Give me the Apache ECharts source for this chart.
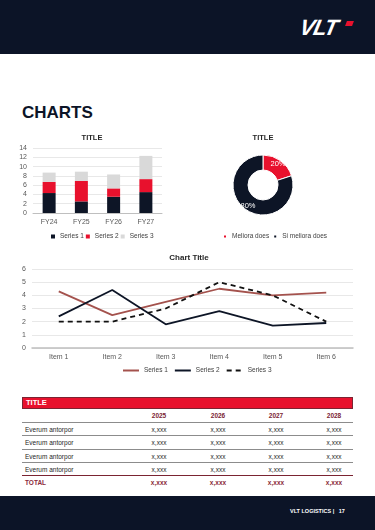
<!DOCTYPE html>
<html>
<head>
<meta charset="utf-8">
<script src="https://cdn.jsdelivr.net/npm/echarts@6/dist/echarts.min.js"></script>
<style>
    html, body { margin: 0; padding: 0; background: #fff; }
    body { width: 375px; height: 530px; position: relative; overflow: hidden; font-family: "Liberation Sans", Arial, sans-serif; }
    .header { position: absolute; left: 0; top: 0; width: 375px; height: 54px; background: #0c1427; }
    .logo { position: absolute; left: 300px; top: 15px; color: #fff; font-size: 22px; font-weight: 900; font-style: italic; letter-spacing: -1px; transform: skewX(-12deg); }
    .logo-dot { position: absolute; left: 346px; top: 21px; width: 7px; height: 5px; background: #e8112d; transform: skewX(-20deg); }
    .heading { position: absolute; left: 22px; top: 103px; font-size: 17px; font-weight: bold; color: #0c1427; }
    .footer { position: absolute; left: 0; top: 496px; width: 375px; height: 34px; background: #0c1427; }
    .footer span { position: absolute; left: 290px; top: 12px; color: #fff; font-size: 5.5px; font-weight: bold; white-space: pre; }
    #chart { position: absolute; left: 0; top: 0; width: 375px; height: 530px; }
    .table { position: absolute; left: 22px; top: 397px; width: 331px; font-size: 6.5px; color: #262626; }
    .table .bar { height: 12px; background: #e8112d; border: 1px solid #7b2432; box-sizing: border-box; color: #fff; font-weight: bold; font-size: 7.5px; line-height: 10px; padding-left: 3px; }
    .table .row { position: relative; height: 13.3px; border-bottom: 1px solid #8c8c8c; box-sizing: border-box; }
    .table .row.head { height: 14px; border-bottom-width: 1.5px; color: #7b2432; font-weight: bold; }
    .table .row.last { border-bottom: 1px solid #7b2432; }
    .table .row.total { border-bottom: none; color: #8b2a3a; font-weight: bold; }
    .table .cell { position: absolute; top: 0; line-height: 13px; }
    .table .label { left: 3px; }
    .table .val { width: 40px; margin-left: -20px; text-align: center; }
</style>
</head>
<body>
<div class="header"><div class="logo">VLT</div><div class="logo-dot"></div></div>
<div class="heading">CHARTS</div>
<div class="table" id="table"></div>
<div class="footer"><span>VLT LOGISTICS |   17</span></div>
<div id="chart"></div>
<script>
// bar chart data
var barCategories = ["FY24", "FY25", "FY26", "FY27"];
var barSeries1 = [4.3, 2.5, 3.5, 4.5];
var barSeries2 = [2.4, 4.4, 1.8, 2.8];
var barSeries3 = [2, 2, 3, 5];

// donut data
var pieNames = ["Meliora does", "Si meliora does"];
var pieValues = [20, 80];

// line chart data
var lineCategories = ["Item 1", "Item 2", "Item 3", "Item 4", "Item 5", "Item 6"];
var lineSeries1 = [4.3, 2.5, 3.5, 4.5, 4.0, 4.2];
var lineSeries2 = [2.4, 4.4, 1.8, 2.8, 1.7, 1.9];
var lineSeries3 = [2, 2, 3, 5, 4, 2];

// table data
var tableTitle = "TITLE";
var tableYears = ["2025", "2026", "2027", "2028"];
var tableRowLabels = ["Everum antorpor", "Everum antorpor", "Everum antorpor", "Everum antorpor"];
var tableValues = [
    ["x,xxx", "x,xxx", "x,xxx", "x,xxx"],
    ["x,xxx", "x,xxx", "x,xxx", "x,xxx"],
    ["x,xxx", "x,xxx", "x,xxx", "x,xxx"],
    ["x,xxx", "x,xxx", "x,xxx", "x,xxx"]
];
var tableTotalLabel = "TOTAL";
var tableTotals = ["x,xxx", "x,xxx", "x,xxx", "x,xxx"];

var NAVY = "#0d1526";
var RED = "#e8112d";
var GREY = "#d9d9d9";
var FONT = "Liberation Sans";

// build table
(function () {
    var colX = [137, 196, 254, 312]; // column centers relative to table
    var html = '<div class="bar">' + tableTitle + '</div>';
    function row(cls, label, vals) {
        var s = '<div class="row ' + cls + '"><span class="cell label">' + label + '</span>';
        vals.forEach(function (v, i) {
            s += '<span class="cell val" style="left:' + colX[i] + 'px">' + v + '</span>';
        });
        return s + '</div>';
    }
    html += row("head", "", tableYears);
    tableRowLabels.forEach(function (lab, i) {
        html += row(i === tableRowLabels.length - 1 ? "last" : "", lab, tableValues[i]);
    });
    html += row("total", tableTotalLabel, tableTotals);
    document.getElementById("table").innerHTML = html;
})();

function titleText(x, y, text, size) {
    return {
        type: "text",
        x: x,
        y: y,
        style: {
            text: text,
            fill: "#262626",
            font: "bold " + size + "px " + FONT,
            align: "center",
            verticalAlign: "middle",
            textAlign: "center",
            textVerticalAlign: "middle"
        }
    };
}

var axisLabel = { fontSize: 7, color: "#595959", fontFamily: FONT };
var legendText = { fontSize: 6.5, color: "#404040", fontFamily: FONT };

var myChart = echarts.init(document.getElementById("chart"), null, { renderer: "canvas" });
var option = {
    animation: false,
    textStyle: { fontFamily: FONT },
    graphic: [
        titleText(92, 138, "TITLE", 7.5),
        titleText(263, 138, "TITLE", 7.5),
        titleText(189, 258, "Chart Title", 8)
    ],
    grid: [
        { left: 33, width: 129, top: 148, height: 65 },
        { left: 32, width: 321, top: 269, height: 79 }
    ],
    xAxis: [
        {
            gridIndex: 0,
            type: "category",
            data: barCategories,
            axisLine: { lineStyle: { color: "#bfbfbf", width: 1 } },
            axisTick: { show: false },
            axisLabel: Object.assign({ margin: 6 }, axisLabel)
        },
        {
            gridIndex: 1,
            type: "category",
            data: lineCategories,
            axisLine: { lineStyle: { color: "#bfbfbf", width: 1.5 } },
            axisTick: { show: false },
            axisLabel: Object.assign({ margin: 6 }, axisLabel)
        }
    ],
    yAxis: [
        {
            gridIndex: 0,
            type: "value",
            min: 0,
            max: 14,
            interval: 2,
            axisLine: { show: false },
            axisTick: { show: false },
            splitLine: { lineStyle: { color: "#e8e8e8" } },
            axisLabel: Object.assign({ margin: 6 }, axisLabel)
        },
        {
            gridIndex: 1,
            type: "value",
            min: 0,
            max: 6,
            interval: 1,
            axisLine: { show: false },
            axisTick: { show: false },
            splitLine: { lineStyle: { color: "#e8e8e8" } },
            axisLabel: Object.assign({ margin: 6 }, axisLabel)
        }
    ],
    legend: [
        {
            data: ["Series 1", "Series 2", "Series 3"].map(function (n) { return { name: n, icon: "rect" }; }),
            left: 46,
            top: 228,
            itemWidth: 4,
            itemHeight: 4,
            itemGap: 2,
            textStyle: legendText
        },
        {
            data: pieNames,
            left: 217,
            top: 228,
            icon: "rect",
            itemWidth: 4,
            itemHeight: 4,
            itemGap: 3,
            textStyle: legendText
        },
        {
            data: ["L1", "L2", "L3"],
            left: 117,
            top: 362,
            itemWidth: 16,
            itemHeight: 6,
            itemGap: 6,
            itemStyle: { opacity: 0 },
            formatter: function (n) { return n.replace("L", "Series "); },
            textStyle: legendText
        }
    ],
    series: [
        {
            name: "Series 1", type: "bar", stack: "bars", xAxisIndex: 0, yAxisIndex: 0,
            data: barSeries1, barWidth: 13, itemStyle: { color: NAVY }
        },
        {
            name: "Series 2", type: "bar", stack: "bars", xAxisIndex: 0, yAxisIndex: 0,
            data: barSeries2, barWidth: 13, itemStyle: { color: RED }
        },
        {
            name: "Series 3", type: "bar", stack: "bars", xAxisIndex: 0, yAxisIndex: 0,
            data: barSeries3, barWidth: 13, itemStyle: { color: GREY }
        },
        {
            type: "pie",
            center: [263, 185],
            radius: [15, 30],
            startAngle: 90,
            clockwise: true,
            data: pieNames.map(function (n, i) {
                return { name: n, value: pieValues[i], itemStyle: { color: i === 0 ? RED : NAVY } };
            }),
            itemStyle: { borderColor: "#fff", borderWidth: 1 },
            label: {
                position: "inside",
                formatter: "{d}%",
                color: "#fff",
                fontSize: 7.5,
                fontFamily: FONT
            },
            labelLine: { show: false },
            emphasis: { disabled: true }
        },
        {
            name: "L1", type: "line", xAxisIndex: 1, yAxisIndex: 1,
            data: lineSeries1, symbol: "none",
            itemStyle: { color: "#a4524d" },
            lineStyle: { color: "#a4524d", width: 1.8 }
        },
        {
            name: "L2", type: "line", xAxisIndex: 1, yAxisIndex: 1,
            data: lineSeries2, symbol: "none",
            itemStyle: { color: NAVY },
            lineStyle: { color: NAVY, width: 1.8 }
        },
        {
            name: "L3", type: "line", xAxisIndex: 1, yAxisIndex: 1,
            data: lineSeries3, symbol: "none",
            itemStyle: { color: "#111" },
            lineStyle: { color: "#111", width: 1.8, type: [5, 4] }
        }
    ]
};
myChart.setOption(option);
</script>
</body>
</html>
